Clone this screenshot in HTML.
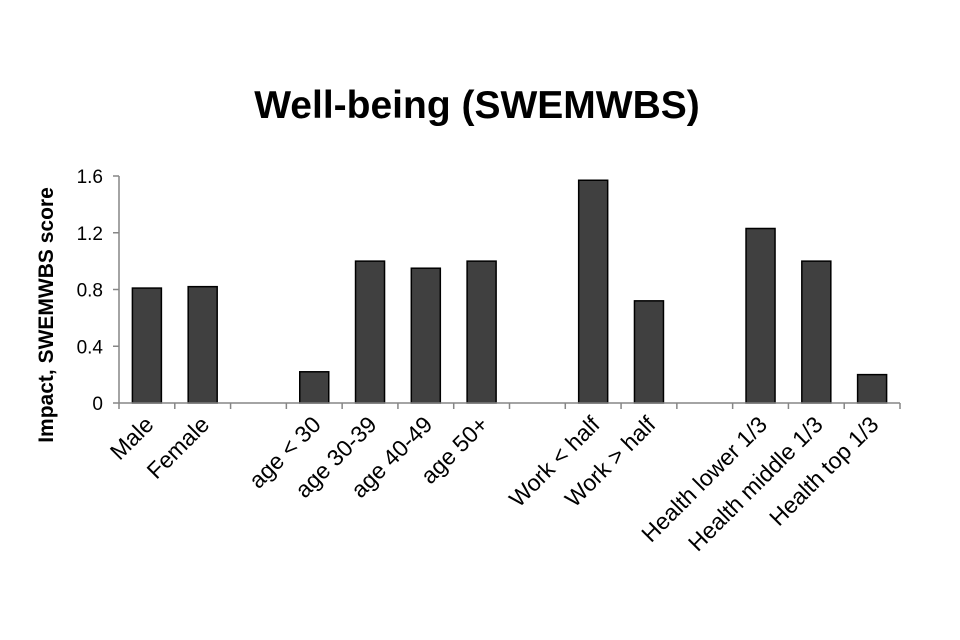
<!DOCTYPE html>
<html><head><meta charset="utf-8"><style>
html,body{margin:0;padding:0;background:#fff;}
svg{display:block;font-family:"Liberation Sans","DejaVu Sans",sans-serif;}
</style></head><body>
<svg id="chart" width="960" height="640" viewBox="0 0 960 640">
<text x="477" y="118" text-anchor="middle" font-size="39" font-weight="bold" fill="#000">Well-being (SWEMWBS)</text>
<text transform="translate(53,315) rotate(-90)" text-anchor="middle" font-size="21" font-weight="bold" fill="#000">Impact, SWEMWBS score</text>
<g id="plot"></g>
</svg>
<script>
const categories = ["Male","Female","","age < 30","age 30-39","age 40-49","age 50+","","Work < half","Work > half","","Health lower 1/3","Health middle 1/3","Health top 1/3"];
const values = [0.81,0.82,null,0.22,1.00,0.95,1.00,null,1.57,0.72,null,1.23,1.00,0.20];
const yTicks = [0,0.4,0.8,1.2,1.6];
const yTickLabels = ["0","0.4","0.8","1.2","1.6"];

const NS="http://www.w3.org/2000/svg";
const plot=document.getElementById('plot');
const x0=119,x1=900,yTop=176,yBot=403,yMax=1.6;
const slot=(x1-x0)/categories.length;
const xScale=i=>x0+slot*i;
const yScale=v=>yBot-(v/yMax)*(yBot-yTop);
function mk(tag,attrs){const e=document.createElementNS(NS,tag);for(const k in attrs)e.setAttribute(k,attrs[k]);plot.appendChild(e);return e;}

values.forEach((v,i)=>{
  if(v===null)return;
  const bw=29;
  const r=mk('rect',{x:xScale(i)+slot/2-bw/2,y:yScale(v),width:bw,height:yBot-yScale(v),fill:'#404040',stroke:'#000','stroke-width':1.5});
  
  
});

const ya=mk('line',{x1:x0,y1:yTop,x2:x0,y2:yBot,stroke:'#868686','stroke-width':1.5});


const xa=mk('line',{x1:x0,y1:yBot,x2:x1,y2:yBot,stroke:'#868686','stroke-width':1.5});



yTicks.forEach((t,i)=>{
  const y=yScale(t);
  const tk=mk('line',{x1:x0-6,y1:y,x2:x0,y2:y,stroke:'#868686','stroke-width':1.5});
  
  
  const tx=mk('text',{x:103,y:y+7,'text-anchor':'end','font-size':19,fill:'#000'});
  tx.textContent=yTickLabels[i];
  
  
});

for(let i=0;i<=categories.length;i++){
  const x=xScale(i);
  const tk=mk('line',{x1:x,y1:yBot,x2:x,y2:yBot+6,stroke:'#868686','stroke-width':1.5});
  
  
}
categories.forEach((c,i)=>{
  if(!c)return;
  const cx=xScale(i)+slot/2+8, cy=yBot+23;
  const tx=mk('text',{x:cx,y:cy,'text-anchor':'end','font-size':23,fill:'#000',transform:`rotate(-45 ${cx} ${cy})`});
  tx.textContent=c;
  
  
});
</script>
</body></html>
